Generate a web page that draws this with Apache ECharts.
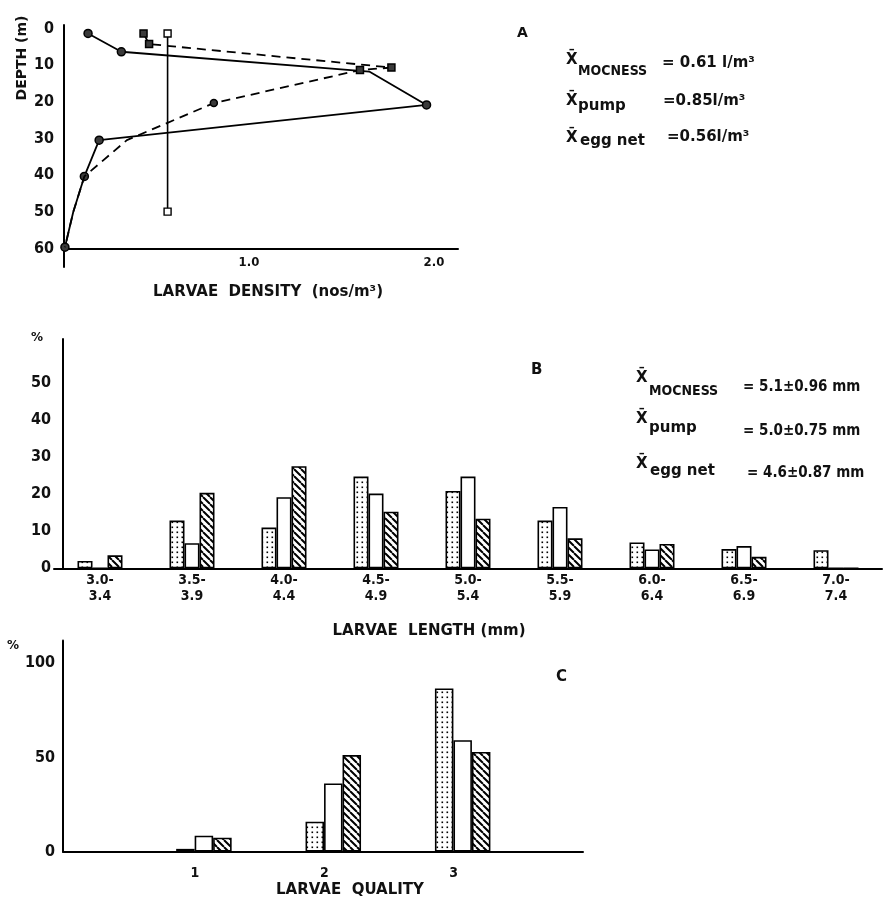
<!DOCTYPE html>
<html>
<head>
<meta charset="utf-8">
<script src="https://cdn.jsdelivr.net/npm/echarts@6/dist/echarts.min.js"></script>
<style>
  html, body { margin: 0; padding: 0; background: #fff; }
  #chart { width: 886px; height: 899px; }
</style>
</head>
<body>
<div id="chart"></div>
<script>
// ---- Panel A: vertical profiles of larvae density, [density (nos/m3), depth (m)] ----
const mocnessProfile = [[0.13, 1.3], [0.31, 6.3], [1.65, 11.7], [1.96, 20.8], [0.19, 30.4], [0.11, 40.3], [0.05, 50], [0.005, 59.6]];
const pumpProfile = [[0.43, 1.3], [0.46, 4.2], [1.77, 10.6], [1.60, 11.3], [0.81, 20.3], [0.34, 30.4], [0.11, 40.3], [0.05, 50], [0.005, 59.6]];
const eggNetProfile = [[0.56, 1.3], [0.56, 49.9]];
const depthTicks = [0, 10, 20, 30, 40, 50, 60];
const densityTicks = [1.0, 2.0];

// ---- Panel B: larvae length distribution (%) ----
const lengthClasses = ['3.0-\n3.4', '3.5-\n3.9', '4.0-\n4.4', '4.5-\n4.9', '5.0-\n5.4', '5.5-\n5.9', '6.0-\n6.4', '6.5-\n6.9', '7.0-\n7.4'];
const lengthMocness = [2.0, 12.9, 11.0, 24.8, 20.9, 12.9, 7.0, 5.2, 4.9];
const lengthPump = [0, 6.8, 19.2, 20.2, 24.8, 16.6, 5.1, 6.0, 0];
const lengthEggNet = [3.5, 20.4, 27.6, 15.3, 13.4, 8.1, 6.6, 3.1, 0];
const lengthTicks = [0, 10, 20, 30, 40, 50];

// ---- Panel C: larvae quality distribution (%) ----
const qualityClasses = [1, 2, 3];
const qualityMocness = [1.5, 15.9, 86.5];
const qualityPump = [8.5, 36.2, 59.1];
const qualityEggNet = [7.4, 51.2, 52.9];
const qualityTicks = [0, 50, 100];

const FONT = "'DejaVu Sans Condensed', 'DejaVu Sans', sans-serif";
const FONT_WIDE = "'DejaVu Sans', sans-serif";
const INK = '#111';

// Fill patterns for the three gear types
function stipplePattern() {
  const c = document.createElement('canvas');
  c.width = 5; c.height = 5;
  const g = c.getContext('2d');
  g.fillStyle = '#fff'; g.fillRect(0, 0, 5, 5);
  g.fillStyle = '#000'; g.fillRect(1.5, 1.5, 1.6, 1.6);
  return { image: c, repeat: 'repeat' };
}
function hatchPattern() {
  const s = 7;
  const c = document.createElement('canvas');
  c.width = s; c.height = s;
  const g = c.getContext('2d');
  g.fillStyle = '#fff'; g.fillRect(0, 0, s, s);
  g.strokeStyle = '#000'; g.lineWidth = 2;
  g.beginPath();
  for (const x0 of [-s, 0, s]) { g.moveTo(x0, 0); g.lineTo(x0 + s, s); }
  g.stroke();
  return { image: c, repeat: 'repeat' };
}
const fillMocness = stipplePattern();
const fillPump = '#fff';
const fillEggNet = hatchPattern();

const tickFont = { color: INK, fontFamily: FONT, fontWeight: 'bold', fontSize: 15 };

function barSeries(name, values, fill, axisIdx, width, xs) {
  return {
    type: 'bar', name,
    xAxisIndex: axisIdx, yAxisIndex: axisIdx,
    data: xs ? values.map((v, i) => [xs[i], v]) : values,
    barWidth: width, barGap: '0%',
    itemStyle: { color: fill, borderColor: '#000', borderWidth: 1.6 },
    silent: true, animation: false
  };
}

// marker visibility per profile point
const mocnessMarked = [true, true, false, true, true, true, false, true];
const pumpMarked = [true, true, true, true, true, false, false, false, false];

const option = {
  backgroundColor: '#fff',
  animation: false,
  grid: [
    { left: 64, top: 25, width: 394, height: 242 },
    { left: 54, top: 338.9, width: 828, height: 229.4 },
    { left: 63, top: 640.4, width: 520, height: 211.3 }
  ],
  xAxis: [
    {
      gridIndex: 0, type: 'value', min: 0, max: 2.13, position: 'bottom', offset: -18.3,
      axisLine: { onZero: false, lineStyle: { color: '#000', width: 2 } },
      axisTick: { show: false }, splitLine: { show: false },
      axisLabel: Object.assign({ customValues: densityTicks, margin: 7, fontSize: 13,
        formatter: v => v.toFixed(1) }, { color: INK, fontFamily: FONT, fontWeight: 'bold' })
    },
    {
      gridIndex: 1, type: 'category', data: lengthClasses,
      axisLine: { onZero: false, lineStyle: { color: '#000', width: 2 } },
      axisTick: { show: false }, splitLine: { show: false },
      axisLabel: Object.assign({}, tickFont, { fontSize: 14, lineHeight: 16, margin: 4, interval: 0 })
    },
    {
      gridIndex: 2, type: 'value', min: -0.089, max: 3.93,
      axisLine: { onZero: false, lineStyle: { color: '#000', width: 2 } },
      axisTick: { show: false }, splitLine: { show: false },
      axisLabel: Object.assign({}, tickFont, { fontSize: 14, customValues: qualityClasses,
        margin: 15, padding: [0, 18, 0, 0] })
    }
  ],
  yAxis: [
    {
      gridIndex: 0, type: 'value', inverse: true, min: -1, max: 65,
      axisLine: { show: true, onZero: false, lineStyle: { color: '#000', width: 2 } },
      axisTick: { show: false }, splitLine: { show: false },
      axisLabel: Object.assign({}, tickFont, { customValues: depthTicks, margin: 10, fontSize: 16 })
    },
    {
      gridIndex: 1, type: 'value', min: 0, max: 62, offset: -9,
      axisLine: { show: true, onZero: false, lineStyle: { color: '#000', width: 2 } },
      axisTick: { show: false }, splitLine: { show: false },
      axisLabel: Object.assign({}, tickFont, { customValues: lengthTicks, margin: 12, fontSize: 16 })
    },
    {
      gridIndex: 2, type: 'value', min: 0, max: 112,
      axisLine: { show: true, onZero: false, lineStyle: { color: '#000', width: 2 } },
      axisTick: { show: false }, splitLine: { show: false },
      axisLabel: Object.assign({}, tickFont, { customValues: qualityTicks, margin: 8, fontSize: 16 })
    }
  ],
  series: [
    {
      type: 'line', name: 'MOCNESS', xAxisIndex: 0, yAxisIndex: 0,
      data: mocnessProfile,
      lineStyle: { color: '#000', width: 1.8 },
      symbol: (v, p) => mocnessMarked[p.dataIndex] ? 'circle' : 'none',
      symbolSize: 8,
      itemStyle: { color: '#3a3a3a', borderColor: '#000', borderWidth: 1.5 },
      silent: true, z: 3
    },
    {
      type: 'line', name: 'pump', xAxisIndex: 0, yAxisIndex: 0,
      data: pumpProfile,
      lineStyle: { color: '#000', width: 1.8, type: [9, 6] },
      symbol: (v, p) => !pumpMarked[p.dataIndex] ? 'none' : (p.dataIndex === 4 ? 'circle' : 'rect'),
      symbolSize: 7,
      itemStyle: { color: '#3a3a3a', borderColor: '#000', borderWidth: 1.5 },
      silent: true, z: 4
    },
    {
      type: 'line', name: 'egg net', xAxisIndex: 0, yAxisIndex: 0,
      data: eggNetProfile,
      lineStyle: { color: '#000', width: 1.6 },
      symbol: 'rect', symbolSize: 7,
      itemStyle: { color: '#fff', borderColor: '#000', borderWidth: 1.4 },
      silent: true, z: 5
    },
    barSeries('MOCNESS', lengthMocness, fillMocness, 1, 15),
    barSeries('pump', lengthPump, fillPump, 1, 15),
    barSeries('egg net', lengthEggNet, fillEggNet, 1, 15),
    barSeries('MOCNESS', qualityMocness, fillMocness, 2, 18.5, qualityClasses),
    barSeries('pump', qualityPump, fillPump, 2, 18.5, qualityClasses),
    barSeries('egg net', qualityEggNet, fillEggNet, 2, 18.5, qualityClasses)
  ],
  graphic: []
};

// Free text: axis titles, panel letters, gear means
function txt(text, x, y, size, opts) {
  opts = opts || {};
  return {
    type: 'text', x, y, rotation: opts.rotation || 0, silent: true,
    style: {
      text, fill: INK,
      font: `bold ${size}px ${opts.family || FONT_WIDE}`,
      align: opts.align || 'left', verticalAlign: 'middle'
    }
  };
}
const g = option.graphic;
g.push(txt('DEPTH (m)', 22, 58, 14, { align: 'center', rotation: Math.PI / 2 }));
g.push(txt('LARVAE  DENSITY  (nos/m³)', 268, 292, 15, { align: 'center' }));
g.push(txt('LARVAE  LENGTH (mm)', 429, 631, 15, { align: 'center' }));
g.push(txt('LARVAE  QUALITY', 350, 890, 15, { align: 'center' }));
g.push(txt('%', 37, 338, 12, { align: 'center' }));
g.push(txt('%', 13, 646, 12, { align: 'center' }));
g.push(txt('A', 517, 33, 14));
g.push(txt('B', 531, 370, 15));
g.push(txt('C', 556, 677, 15));

// Panel A means
g.push(txt('X̄', 566, 60, 15));
g.push(txt('MOCNESS', 578, 71, 14, { family: FONT }));
g.push(txt('= 0.61 l/m³', 662, 63, 15));
g.push(txt('X̄', 566, 101, 15));
g.push(txt('pump', 578, 106, 15));
g.push(txt('=0.85l/m³', 663, 101, 15));
g.push(txt('X̄', 566, 138, 15));
g.push(txt('egg net', 580, 141, 15));
g.push(txt('=0.56l/m³', 667, 137, 15));

// Panel B means
g.push(txt('X̄', 636, 378, 15));
g.push(txt('MOCNESS', 649, 391, 14, { family: FONT }));
g.push(txt('= 5.1±0.96 mm', 743, 387, 15, { family: FONT }));
g.push(txt('X̄', 636, 419, 15));
g.push(txt('pump', 649, 428, 15));
g.push(txt('= 5.0±0.75 mm', 743, 431, 15, { family: FONT }));
g.push(txt('X̄', 636, 464, 15));
g.push(txt('egg net', 650, 471, 15));
g.push(txt('= 4.6±0.87 mm', 747, 473, 15, { family: FONT }));

const chart = echarts.init(document.getElementById('chart'), null, { renderer: 'canvas' });
chart.setOption(option);
</script>
</body>
</html>
